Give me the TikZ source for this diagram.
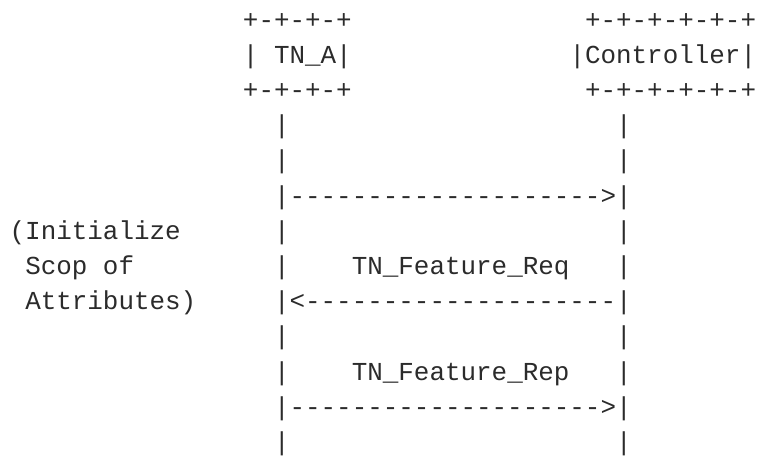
\documentclass[tikz,border=0pt]{standalone}
\usepackage{fontspec}
\setmonofont{Liberation Mono}
\definecolor{inkgray}{HTML}{2B2B2B}
\tikzset{
  ascii/.style={anchor=base west, inner sep=0pt, outer sep=0pt,
    font=\ttfamily\fontsize{25.91}{35}\selectfont, text=inkgray},
}
\begin{document}
\begin{tikzpicture}[x=1pt,y=1pt]
\useasboundingbox (0,0) rectangle (757,-459);
% character grid: one column = one monospaced cell, one row = one text line
\begin{scope}[shift={(9.7,-28.1)}, x=15.55pt, y=-35.2pt]
  % boxes of the two parties
  \node[ascii] (tnaTop)   at (15,0) {+-+-+-+};
  \node[ascii] (ctlTop)   at (37,0) {+-+-+-+-+-+};
  \node[ascii] (tnaL)     at (15,1) {|};
  \node[ascii] (tnaName)  at (17,1) {TN\_A|};
  \node[ascii] (ctlName)  at (36,1) {|Controller|};
  \node[ascii] (tnaBot)   at (15,2) {+-+-+-+};
  \node[ascii] (ctlBot)   at (37,2) {+-+-+-+-+-+};
  % lifelines
  \foreach \r in {3,4,6,7,9,10,12} {
    \node[ascii] (lifeA\r) at (17,\r) {|};
    \node[ascii] (lifeC\r) at (39,\r) {|};
  }
  % messages
  \node[ascii] (msgOne)   at (17,5)  {|-------------------->|};
  \node[ascii] (reqLabel) at (22,7)  {TN\_Feature\_Req};
  \node[ascii] (msgReq)   at (17,8)  {|<--------------------|};
  \node[ascii] (repLabel) at (22,10) {TN\_Feature\_Rep};
  \node[ascii] (msgRep)   at (17,11) {|-------------------->|};
  % side note
  \node[ascii] (noteA)    at (0,6)   {(Initialize};
  \node[ascii] (noteB)    at (1,7)   {Scop of};
  \node[ascii] (noteC)    at (1,8)   {Attributes)};
\end{scope}
\end{tikzpicture}
\end{document}
